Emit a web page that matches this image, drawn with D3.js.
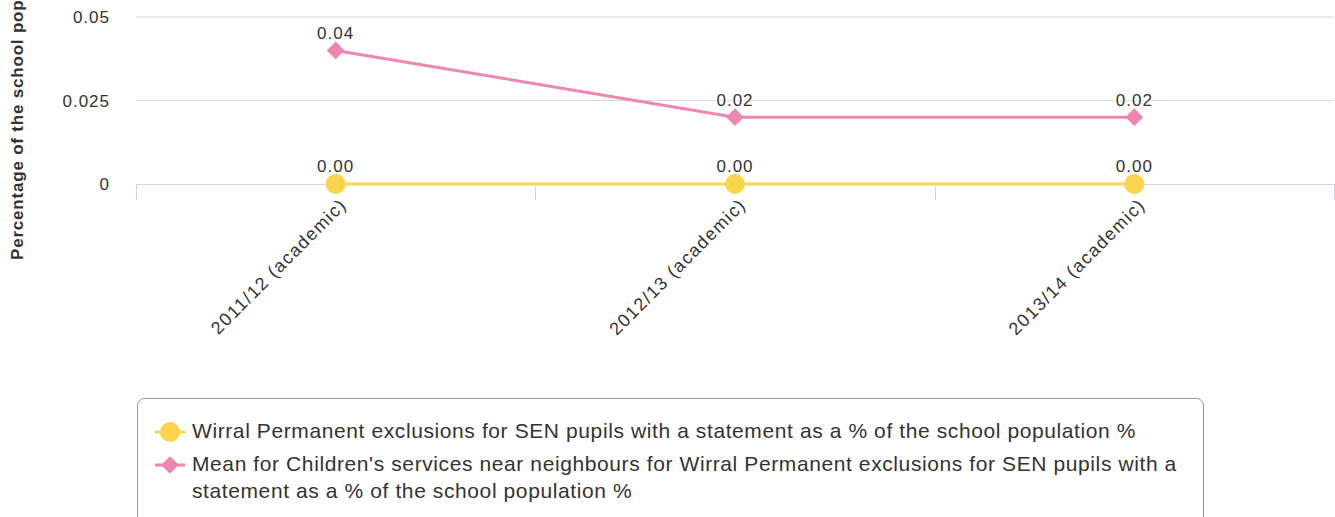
<!DOCTYPE html>
<html>
<head>
<meta charset="utf-8">
<script src="https://cdn.jsdelivr.net/npm/d3@7"></script>
<style>
  body { margin: 0; background: #fff; }
  svg { font-family: "Liberation Sans", Arial, sans-serif; }
</style>
</head>
<body>
<div id="chart"></div>
<script>
// categories and series
const years = ['2011/12 (academic)', '2012/13 (academic)', '2013/14 (academic)'];
const wirral = [0, 0, 0];
const neighbours = [0.04, 0.02, 0.02];
const yTicks = [0, 0.025, 0.05];
const seriesNames = [
  'Wirral Permanent exclusions for SEN pupils with a statement as a % of the school population %',
  "Mean for Children's services near neighbours for Wirral Permanent exclusions for SEN pupils with a statement as a % of the school population %"
];

const W = 1335, H = 517;
const margin = {top: 17, right: 1, bottom: 333, left: 136};
const width = W - margin.left - margin.right,
      height = H - margin.top - margin.bottom;

const svg = d3.select('#chart').append('svg')
  .attr('width', W).attr('height', H);

const g = svg.append('g')
  .attr('transform', 'translate(' + margin.left + ',' + margin.top + ')');

var x = d3.scaleBand().domain(years).range([0, width]);
var y = d3.scaleLinear().domain([0, 0.05]).range([height, 0]);

// gridlines
g.selectAll('line.grid')
  .data(yTicks.filter(d => d > 0))
  .enter().append('line')
  .attr('x1', 0).attr('x2', width)
  .attr('y1', d => y(d)).attr('y2', d => y(d))
  .attr('stroke', '#d8d8d8').attr('stroke-width', 1);

// y labels
g.selectAll('text.ytick')
  .data(yTicks)
  .enter().append('text')
  .attr('x', -26)
  .attr('y', d => y(d) + 6)
  .attr('text-anchor', 'end')
  .attr('font-size', '17px')
  .attr('letter-spacing', '1px')
  .attr('fill', '#333')
  .text(d => d);

// x axis
g.append('line')
  .attr('x1', 0).attr('x2', width)
  .attr('y1', height + 0.5).attr('y2', height + 0.5)
  .attr('stroke', '#ccd6eb');

const bounds = years.map(d => x(d)).concat([width]);
g.selectAll('line.xtick')
  .data(bounds)
  .enter().append('line')
  .attr('x1', d => Math.round(d) + 0.5).attr('x2', d => Math.round(d) + 0.5)
  .attr('y1', height).attr('y2', height + 16)
  .attr('stroke', '#ccd6eb');

g.selectAll('text.xlab')
  .data(years)
  .enter().append('text')
  .attr('transform', d => 'translate(' + (x(d) + x.bandwidth() / 2 + 12) + ',' + (height + 22) + ') rotate(-45)')
  .attr('text-anchor', 'end')
  .attr('font-size', '18px')
  .attr('letter-spacing', '1.4px')
  .attr('fill', '#333')
  .text(d => d);

// y axis title (runs off the top edge, as in the original)
svg.append('text')
  .attr('transform', 'translate(23,260) rotate(-90)')
  .attr('text-anchor', 'start')
  .attr('font-size', '17px')
  .attr('font-weight', 'bold')
  .attr('letter-spacing', '0.8px')
  .attr('fill', '#333')
  .text('Percentage of the school population');

const cx = d => x(d) + x.bandwidth() / 2;
const line = d3.line().x((d, i) => cx(years[i])).y(d => y(d));

const yellow = '#fcd34d', pink = '#ef85b1';

// pink series
g.append('path').datum(neighbours)
  .attr('d', line).attr('fill', 'none')
  .attr('stroke', pink).attr('stroke-width', 3);
g.selectAll('path.dia')
  .data(neighbours)
  .enter().append('path')
  .attr('d', d3.symbol().type(d3.symbolDiamond2).size(200))
  .attr('transform', (d, i) => 'translate(' + cx(years[i]) + ',' + y(d) + ')')
  .attr('fill', pink);

// yellow series
g.append('path').datum(wirral)
  .attr('d', line).attr('fill', 'none')
  .attr('stroke', yellow).attr('stroke-width', 3);
g.selectAll('circle.pt')
  .data(wirral)
  .enter().append('circle')
  .attr('cx', (d, i) => cx(years[i])).attr('cy', d => y(d))
  .attr('r', 10).attr('fill', yellow);

// data labels
function labels(data, fmt, dy) {
  g.selectAll(null)
    .data(data)
    .enter().append('text')
    .attr('x', (d, i) => cx(years[i]))
    .attr('y', d => y(d) + dy)
    .attr('text-anchor', 'middle')
    .attr('font-size', '17px')
    .attr('letter-spacing', '1px')
    .attr('fill', '#333')
    .attr('stroke', '#fff').attr('stroke-width', 3).attr('paint-order', 'stroke')
    .text(fmt);
}
labels(neighbours, d => d.toFixed(2), -11);
labels(wirral, d => d.toFixed(2), -12);

// legend
const lg = svg.append('g');
lg.append('rect')
  .attr('x', 137.5).attr('y', 398.5)
  .attr('width', 1066).attr('height', 130)
  .attr('rx', 7)
  .attr('fill', '#fff').attr('stroke', '#999');

const items = [
  {color: yellow, shape: 'circle', lines: [seriesNames[0]], y: 432},
  {color: pink, shape: 'diamond', lines: ["Mean for Children's services near neighbours for Wirral Permanent exclusions for SEN pupils with a", 'statement as a % of the school population %'], y: 465}
];
items.forEach(it => {
  lg.append('line')
    .attr('x1', 155).attr('x2', 185)
    .attr('y1', it.y).attr('y2', it.y)
    .attr('stroke', it.color).attr('stroke-width', 3);
  if (it.shape === 'circle') {
    lg.append('circle').attr('cx', 170).attr('cy', it.y).attr('r', 10).attr('fill', it.color);
  } else {
    lg.append('path')
      .attr('d', d3.symbol().type(d3.symbolDiamond2).size(200))
      .attr('transform', 'translate(170,' + it.y + ')')
      .attr('fill', it.color);
  }
  it.lines.forEach((t, k) => {
    lg.append('text')
      .attr('x', 192).attr('y', it.y + 6 + k * 27)
      .attr('font-size', '21px').attr('fill', '#333')
      .attr('letter-spacing', '0.6px')
      .text(t);
  });
});
</script>
</body>
</html>
